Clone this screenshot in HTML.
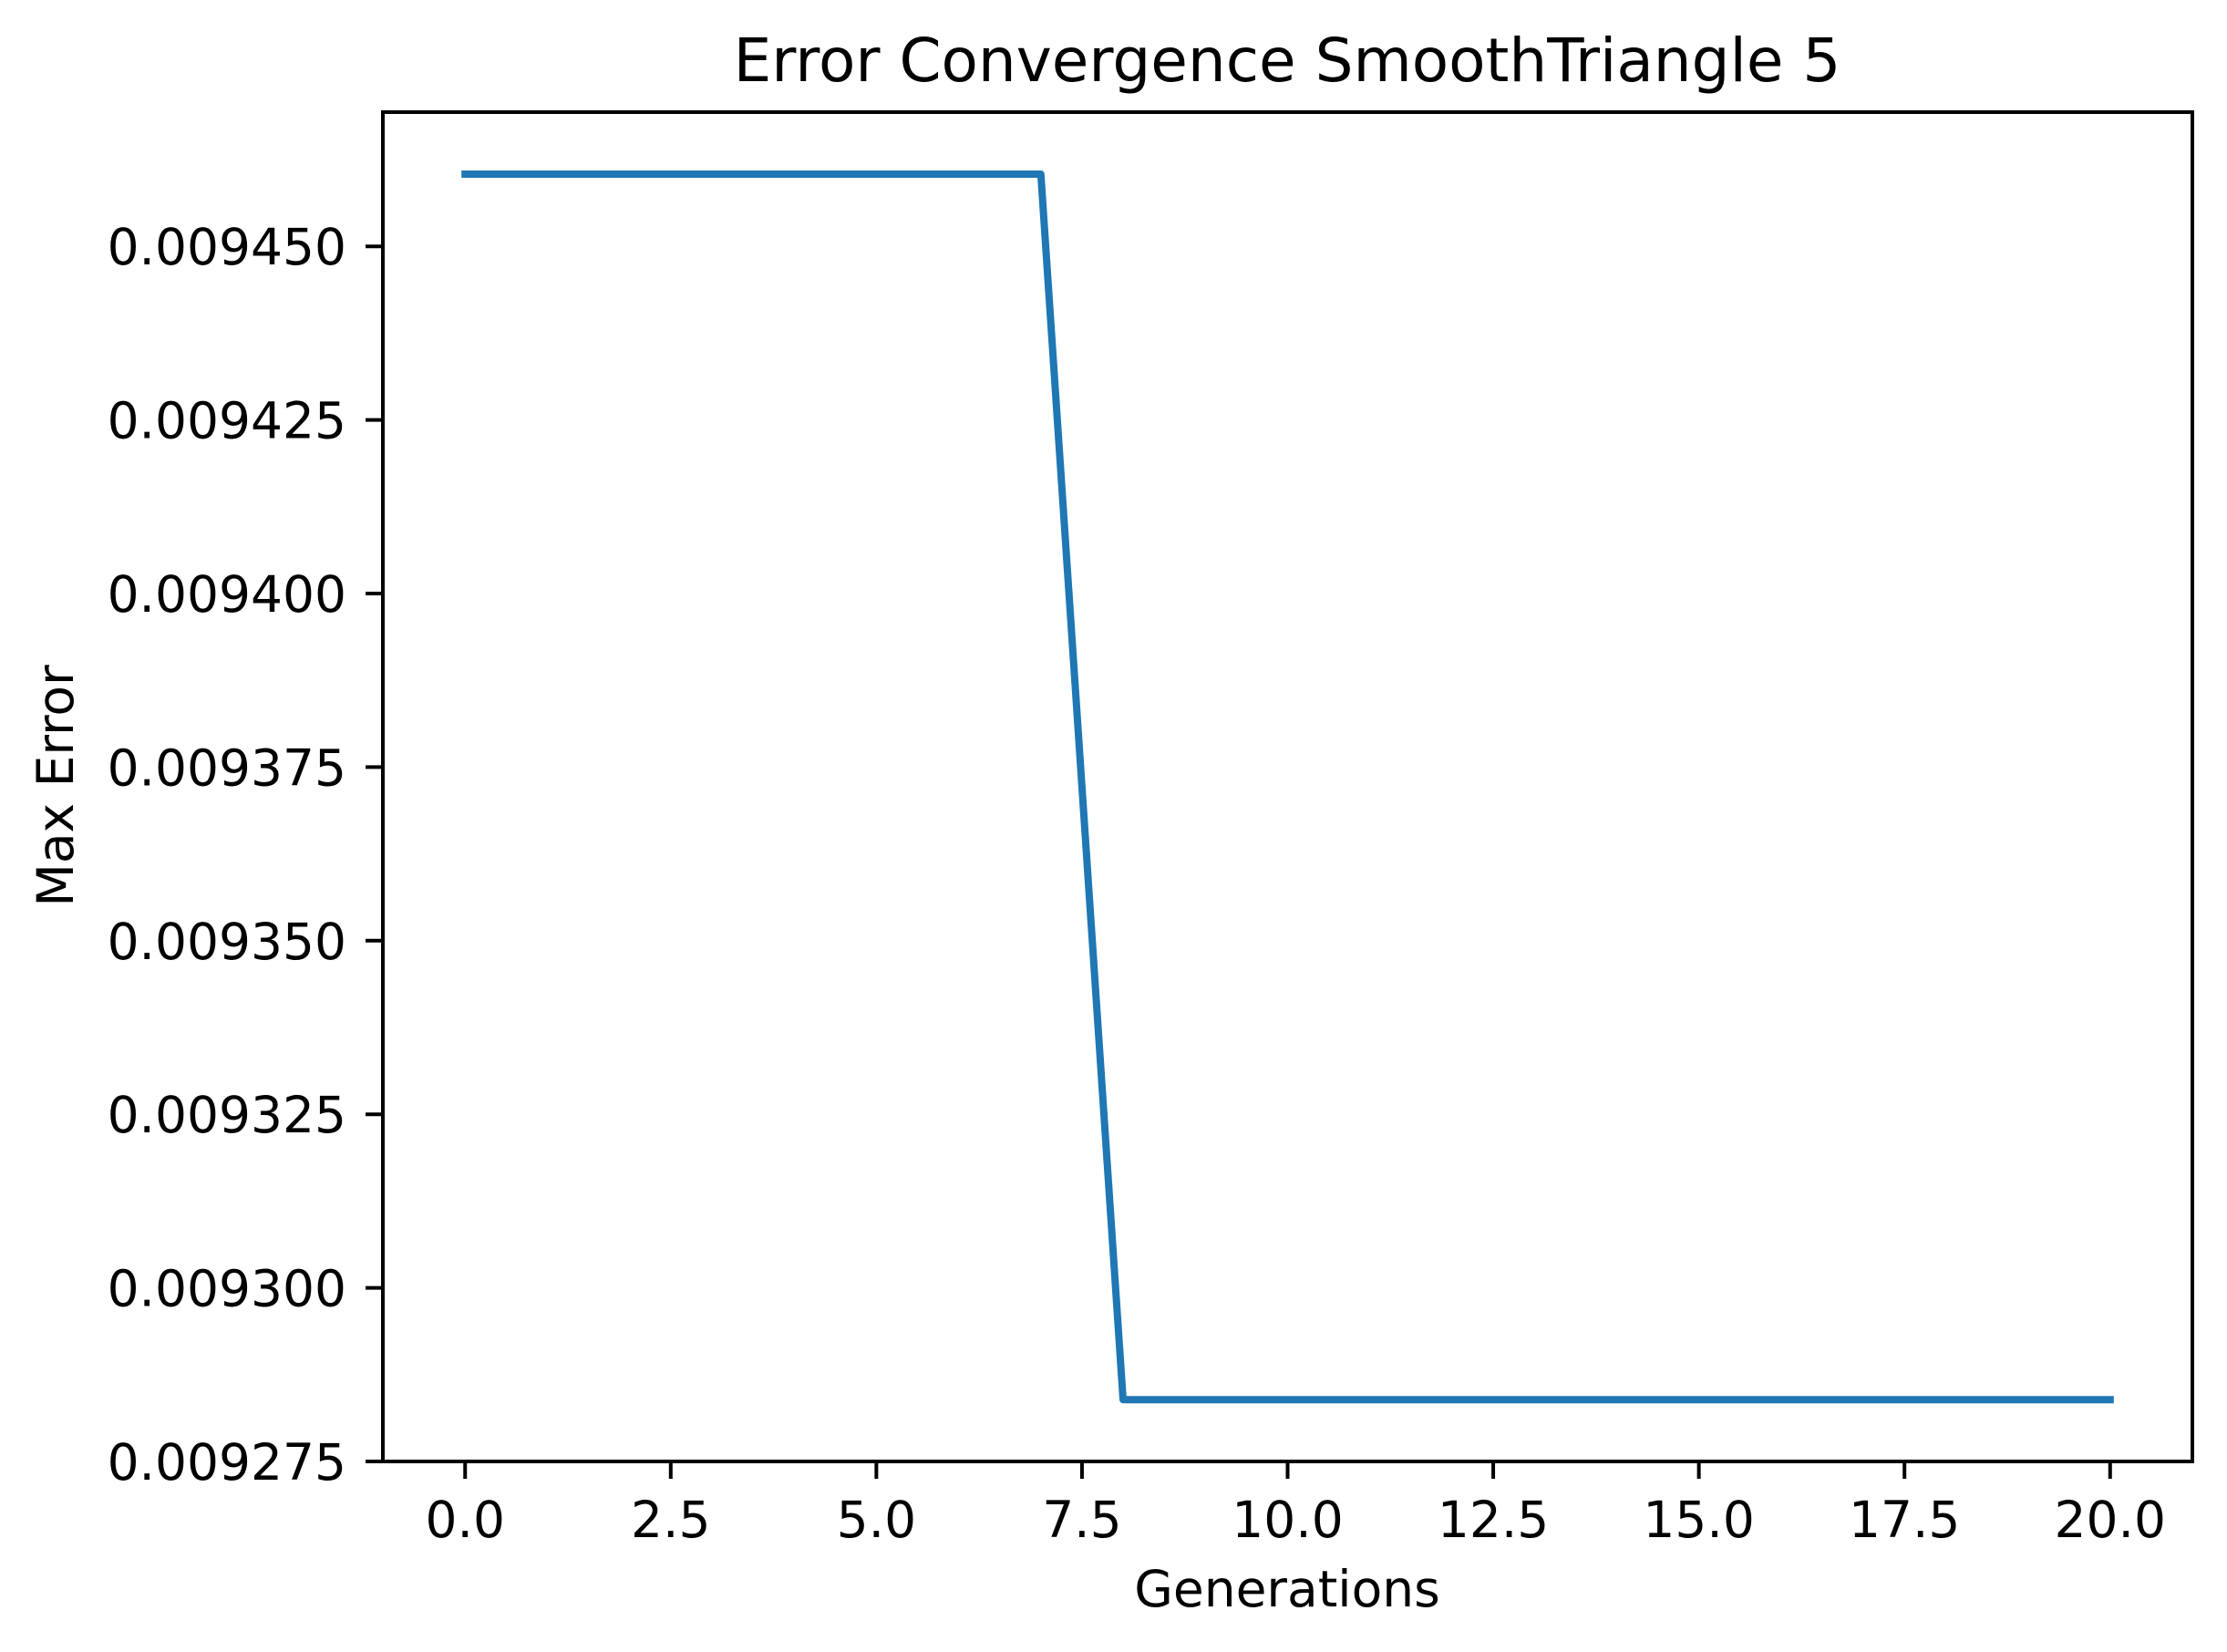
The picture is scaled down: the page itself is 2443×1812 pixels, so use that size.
<!DOCTYPE html>
<html><head><meta charset="utf-8"><style>
html,body{margin:0;padding:0;background:#fff;}
svg{display:block;font-family:"DejaVu Sans","Liberation Sans",sans-serif;}
</style></head><body>
<svg id="chart" width="2443" height="1812" viewBox="0 0 2443 1812" xmlns="http://www.w3.org/2000/svg">
<rect width="2443" height="1812" fill="#fff"/>
<text x="1412" y="89" font-size="66" text-anchor="middle">Error Convergence SmoothTriangle 5</text>
<text x="1412" y="1762" font-size="55" text-anchor="middle">Generations</text>
<text transform="translate(80,862) rotate(-90)" font-size="55" text-anchor="middle">Max Error</text>
<g id="ticks"></g>
<path id="series" fill="none" stroke="#1f77b4" stroke-width="8" stroke-linejoin="round" stroke-linecap="square"/>
<rect x="420" y="123" width="1985" height="1480" fill="none" stroke="#000" stroke-width="4"/>
</svg>
<script>
const generations = [0,1,2,3,4,5,6,7,8,9,10,11,12,13,14,15,16,17,18,19,20];
const maxError = [0.0094604,0.0094604,0.0094604,0.0094604,0.0094604,0.0094604,0.0094604,0.0094604,0.0092839,0.0092839,0.0092839,0.0092839,0.0092839,0.0092839,0.0092839,0.0092839,0.0092839,0.0092839,0.0092839,0.0092839,0.0092839];
const xTicks = [0,2.5,5,7.5,10,12.5,15,17.5,20];
const xTickLabels = ["0.0","2.5","5.0","7.5","10.0","12.5","15.0","17.5","20.0"];
const yTicks = [0.009275,0.0093,0.009325,0.00935,0.009375,0.0094,0.009425,0.00945];
const yTickLabels = ["0.009275","0.009300","0.009325","0.009350","0.009375","0.009400","0.009425","0.009450"];

const X0=420, X1=2405, Y0=1603, Y1=123;
const xMin=-1, xMax=21;
const yMin=0.009275, yMax=0.009275+(Y0-Y1)/190.4*0.000025;
function xs(v){return X0+(v-xMin)/(xMax-xMin)*(X1-X0);}
function ys(v){return Y0-(v-yMin)/(yMax-yMin)*(Y0-Y1);}
const NS="http://www.w3.org/2000/svg";
const g=document.getElementById('ticks');
xTicks.forEach((t,i)=>{
  const l=document.createElementNS(NS,'line');
  l.setAttribute('x1',xs(t));l.setAttribute('x2',xs(t));
  l.setAttribute('y1',Y0);l.setAttribute('y2',Y0+19);
  l.setAttribute('stroke','#000');l.setAttribute('stroke-width','4');
  
  
  g.appendChild(l);
  const tx=document.createElementNS(NS,'text');
  tx.setAttribute('x',xs(t));tx.setAttribute('y',1686);
  tx.setAttribute('font-size','55');tx.setAttribute('text-anchor','middle');
  tx.textContent=xTickLabels[i];
  
  
  g.appendChild(tx);
});
yTicks.forEach((t,i)=>{
  const l=document.createElementNS(NS,'line');
  l.setAttribute('x1',X0-19);l.setAttribute('x2',X0);
  l.setAttribute('y1',ys(t));l.setAttribute('y2',ys(t));
  l.setAttribute('stroke','#000');l.setAttribute('stroke-width','4');
  
  
  g.appendChild(l);
  const tx=document.createElementNS(NS,'text');
  tx.setAttribute('x',380);tx.setAttribute('y',ys(t)+20);
  tx.setAttribute('font-size','55');tx.setAttribute('text-anchor','end');
  tx.textContent=yTickLabels[i];
  
  
  g.appendChild(tx);
});
document.getElementById('series').setAttribute('d',
  generations.map((gv,i)=>(i?'L':'M')+xs(gv).toFixed(1)+','+ys(maxError[i]).toFixed(1)).join(' '));
</script>
</body></html>
